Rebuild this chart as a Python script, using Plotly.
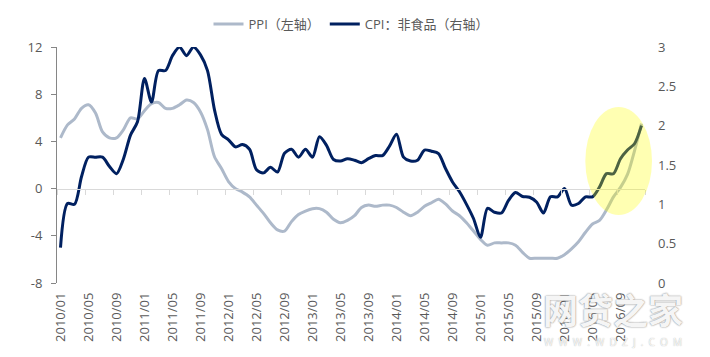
import plotly.graph_objects as go

# ---- data ----
months = [f"{y}/{m:02d}" for y in range(2010, 2017) for m in range(1, 13)]

ppi = [4.3, 5.4, 5.9, 6.8, 7.1, 6.4, 4.8, 4.3, 4.3, 5.0, 6.0, 5.9,
       6.6, 7.2, 7.3, 6.8, 6.8, 7.1, 7.5, 7.3, 6.5, 5.0, 2.7, 1.7,
       0.6, 0.0, -0.3, -0.7, -1.4, -2.1, -2.9, -3.5, -3.6, -2.8, -2.2, -1.9,
       -1.7, -1.7, -2.0, -2.6, -2.9, -2.7, -2.3, -1.6, -1.4, -1.5, -1.4, -1.4,
       -1.6, -2.0, -2.3, -2.0, -1.5, -1.2, -0.9, -1.3, -1.9, -2.3, -2.9, -3.6,
       -4.3, -4.8, -4.6, -4.6, -4.6, -4.8, -5.4, -5.9, -5.9, -5.9, -5.9, -5.9,
       -5.6, -5.1, -4.5, -3.7, -3.0, -2.7, -1.8, -0.7, 0.1, 1.2, 3.2, 5.5]

cpi_nonfood = [0.45, 1.01, 1.00, 1.35, 1.60, 1.60, 1.60, 1.48, 1.39, 1.58, 1.88, 2.05,
               2.60, 2.30, 2.70, 2.70, 2.89, 3.00, 2.89, 3.00, 2.90, 2.70, 2.20, 1.89,
               1.82, 1.73, 1.76, 1.70, 1.44, 1.40, 1.47, 1.41, 1.65, 1.70, 1.60, 1.70,
               1.60, 1.86, 1.75, 1.57, 1.55, 1.58, 1.56, 1.53, 1.58, 1.62, 1.62, 1.74,
               1.89, 1.60, 1.55, 1.56, 1.69, 1.675, 1.645, 1.455, 1.285, 1.16, 1.00, 0.82,
               0.58, 0.95, 0.90, 0.89, 1.05, 1.15, 1.10, 1.09, 1.03, 0.89, 1.095, 1.095,
               1.20, 0.99, 1.01, 1.095, 1.095, 1.22, 1.39, 1.39, 1.58, 1.69, 1.77, 2.00]

x_tick_labels = months[::4]
left_ticks = [-8, -4, 0, 4, 8, 12]
left_tick_text = ["-8", "-4", "0", "4", "8", "12"]
right_ticks = [0, 0.5, 1, 1.5, 2, 2.5, 3]
right_tick_text = ["0", "0.5", "1", "1.5", "2", "2.5", "3"]

name_ppi = "PPI（左轴）"
name_cpi = "CPI：非食品（右轴）"
watermark_main = "网贷之家"
watermark_sub = "WWW.WDZJ.COM"

FONT = "Open Sans, Noto Sans CJK SC, sans-serif"
TXT = "#595959"

fig = go.Figure()
fig.add_trace(go.Scatter(x=months, y=ppi, name=name_ppi, mode="lines",
                         line=dict(color="#ADB9CA", width=3, shape="spline", smoothing=0.8),
                         yaxis="y", xaxis="x"))
fig.add_trace(go.Scatter(x=months, y=cpi_nonfood, name=name_cpi, mode="lines",
                         line=dict(color="#002060", width=3, shape="spline", smoothing=0.8),
                         yaxis="y2", xaxis="x"))
# empty trace to carry the zero-crossing category axis
fig.add_trace(go.Scatter(x=[], y=[], xaxis="x2", yaxis="y", showlegend=False, hoverinfo="skip"))

n = len(months)
# page body adds an 8px offset, so the figure is 8px smaller on each side
fig.update_layout(
    width=702, height=349,
    margin=dict(l=49, r=65, t=39, b=74, autoexpand=False),
    paper_bgcolor="white", plot_bgcolor="white",
    font=dict(family=FONT, size=13, color=TXT),
    showlegend=True,
    legend=dict(orientation="h", x=0.5, xanchor="center", y=1.097, yanchor="middle",
                font=dict(size=13, color=TXT), itemwidth=30, tracegroupgap=0),
    xaxis=dict(type="category", range=[-0.5, n - 0.5], tickmode="array",
               tickvals=x_tick_labels, ticktext=x_tick_labels, tickangle=-90,
               showline=False, ticks="", showgrid=False, zeroline=False, automargin=False,
               ticklabelstandoff=6, tickfont=dict(size=13, color=TXT)),
    xaxis2=dict(overlaying="x", anchor="free", position=0.4, range=[-0.5, n - 0.5],
                tickmode="linear", tick0=-0.5, dtick=4, ticks="outside", ticklen=5,
                tickcolor="#D9D9D9", showline=True, linecolor="#D9D9D9", linewidth=1,
                showticklabels=False, showgrid=False, zeroline=False),
    yaxis=dict(range=[-8, 12], tickmode="array", tickvals=left_ticks, ticktext=left_tick_text,
               showline=True, linecolor="#868686", linewidth=1, ticks="outside", ticklen=5,
               tickcolor="#868686", showgrid=False, zeroline=False, ticklabelstandoff=6,
               automargin=False, tickfont=dict(size=13, color=TXT)),
    yaxis2=dict(overlaying="y", side="right", range=[0, 3], tickmode="array",
                tickvals=right_ticks, ticktext=right_tick_text, showline=False, ticks="",
                showgrid=False, zeroline=False, ticklabelstandoff=12, automargin=False,
                tickfont=dict(size=13, color=TXT)),
)

# highlight ellipse (drawn above lines, semi-transparent)
fig.add_shape(type="circle", xref="paper", yref="paper",
              x0=0.8985, x1=1.0119, y0=0.288, y1=0.746,
              fillcolor="rgba(255,255,0,0.3)", line=dict(width=0), layer="above")

# watermark
fig.add_annotation(text="<b>" + watermark_main + "</b>", xref="paper", yref="paper",
                   x=0.945, y=-0.118, showarrow=False, xanchor="center", yanchor="middle",
                   font=dict(size=35, color="rgba(255,255,255,0.92)", family=FONT,
                             shadow="0px 0px 1.5px rgb(150,150,150), 0px 0px 1.5px rgb(150,150,150)"))
fig.add_annotation(text="\u00a0\u00a0".join(watermark_sub), xref="paper", yref="paper",
                   x=0.945, y=-0.25, showarrow=False, xanchor="center", yanchor="middle",
                   font=dict(size=10, color="rgba(255,255,255,0.92)", family=FONT,
                             shadow="0px 0px 1px rgb(150,150,150)"))

fig.write_html("out.html")
